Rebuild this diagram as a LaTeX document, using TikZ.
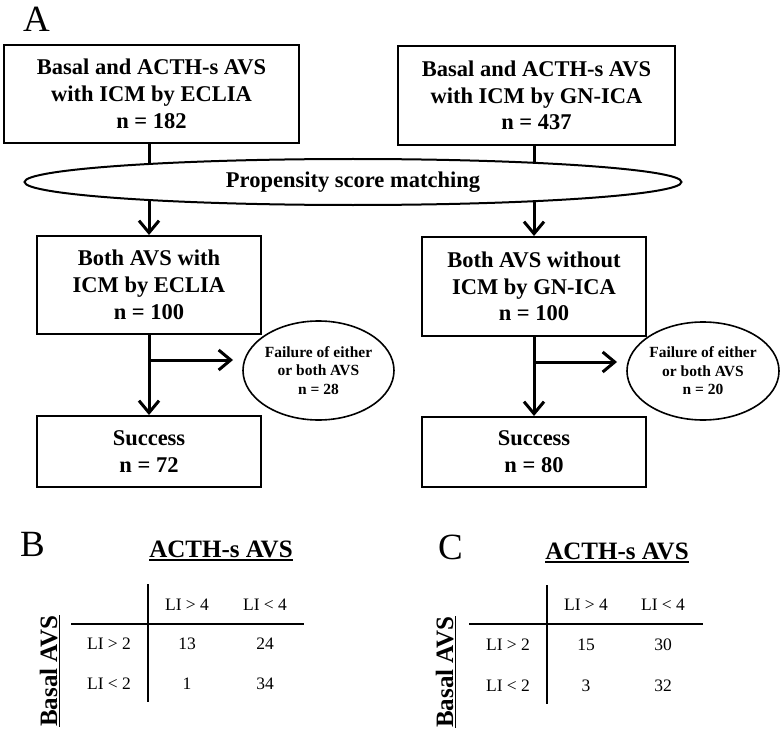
\documentclass[tikz,border=0pt]{standalone}
\usepackage{fontspec}
\setmainfont{Liberation Serif}
\usetikzlibrary{arrows.meta,shapes.geometric,backgrounds}
\begin{document}
\begin{tikzpicture}[x=1pt,y=-1pt,
  flowbox/.style={draw, line width=2pt, align=center, inner sep=0pt,
    font=\bfseries\fontsize{22.5}{26.7}\selectfont},
  bigell/.style={draw, ellipse, line width=2pt, fill=white, inner sep=0pt,
    font=\bfseries\fontsize{22.5}{26}\selectfont},
  smallell/.style={draw, ellipse, line width=1.6pt, inner sep=0pt},
  smalltxt/.style={align=center, inner sep=0pt, font=\bfseries\fontsize{15.5}{18.5}\selectfont},
  flowarrow/.style={line width=3pt, -{Straight Barb[length=12pt,width=20pt,line width=3pt]}},
  panel/.style={anchor=base west, inner sep=0pt, font=\fontsize{37}{40}\selectfont},
  heading/.style={anchor=base, inner sep=0pt, font=\bfseries\fontsize{25}{28}\selectfont},
  cell/.style={anchor=base, inner sep=0pt, font=\fontsize{17.5}{20}\selectfont},
  rule/.style={line width=2.5pt},
  uline/.style={line width=1.5pt}]
\useasboundingbox (0,0) rectangle (782,733);

% Panel A
\node[panel] (pA) at (23,32) {A};
\node[flowbox, minimum width=295, minimum height=98] (b1L) at (151.5,94)
  {Basal and ACTH-s AVS\\with ICM by ECLIA\\n = 182};
\node[flowbox, minimum width=277, minimum height=99] (b1R) at (536.5,95.5)
  {Basal and ACTH-s AVS\\with ICM by GN-ICA\\n = 437};
\node[bigell, minimum width=657, minimum height=46] (psm) at (353,182)
  {Propensity score matching};
\node[flowbox, minimum width=224, minimum height=98] (b2L) at (149,285)
  {Both AVS with\\ICM by ECLIA\\n = 100};
\node[flowbox, minimum width=224, minimum height=99] (b2R) at (534,286.5)
  {Both AVS without\\ICM by GN-ICA\\n = 100};
\node[flowbox, minimum width=224, minimum height=71] (b3L) at (149,451.5)
  {Success\\n = 72};
\node[flowbox, minimum width=224, minimum height=70] (b3R) at (534,452)
  {Success\\n = 80};
\node[smallell, minimum width=151, minimum height=99] (fL) at (318.5,370.5) {};
\node[smalltxt] (fLt) at (fL.center) {Failure of either\\or both AVS\\n = 28};
\node[smallell, minimum width=152, minimum height=98] (fR) at (703,371) {};
\node[smalltxt] (fRt) at (fR.center) {Failure of either\\or both AVS\\n = 20};
\coordinate (jL) at (149,360);
\coordinate (jR) at (534,362);
\coordinate (eL) at (243,360);
\coordinate (eR) at (627,362);

\begin{pgfonlayer}{background}
  \draw[flowarrow] (b2L.north |- b1L.south) -- (b2L.north);
  \draw[flowarrow] (b2R.north |- b1R.south) -- (b2R.north);
\end{pgfonlayer}
\draw[flowarrow] (b2L.south) -- (b3L.north);
\draw[flowarrow] (b2R.south) -- (b3R.north);
\draw[flowarrow, shorten >=10pt] (jL) -- (eL);
\draw[flowarrow, shorten >=10pt] (jR) -- (eR);

% Panel B
\node[panel] (pB) at (20,556) {B};
\node[heading] (hB) at (221,557) {ACTH-s AVS};
\draw[uline] ([yshift=-3pt]hB.base west) -- ([yshift=-3pt]hB.base east);
\node[heading, rotate=90] (vB) at (57,671) {Basal AVS};
\draw[uline] ([xshift=2.5pt]vB.base west) -- ([xshift=2.5pt]vB.base east);
\coordinate (tBt) at (148,584);
\coordinate (tBb) at (148,702);
\coordinate (tBl) at (71,624);
\coordinate (tBr) at (304,624);
\draw[rule] (tBt) -- (tBb);
\draw[rule] (tBl) -- (tBr);
\node[cell] (B11) at (187,610) {LI > 4};
\node[cell] (B12) at (265,610) {LI < 4};
\node[cell] (B21) at (109,649) {LI > 2};
\node[cell] (B31) at (109,689) {LI < 2};
\node[cell] (B22) at (187,649) {13};
\node[cell] (B23) at (265,649) {24};
\node[cell] (B32) at (187,689) {1};
\node[cell] (B33) at (265,689) {34};

% Panel C
\node[panel] (pC) at (438,559) {C};
\node[heading] (hC) at (617,559) {ACTH-s AVS};
\draw[uline] ([yshift=-3pt]hC.base west) -- ([yshift=-3pt]hC.base east);
\node[heading, rotate=90] (vC) at (453,672) {Basal AVS};
\draw[uline] ([xshift=2.5pt]vC.base west) -- ([xshift=2.5pt]vC.base east);
\coordinate (tCt) at (547,585);
\coordinate (tCb) at (547,704);
\coordinate (tCl) at (469,624);
\coordinate (tCr) at (703,624);
\draw[rule] (tCt) -- (tCb);
\draw[rule] (tCl) -- (tCr);
\node[cell] (C11) at (586,610) {LI > 4};
\node[cell] (C12) at (663,610) {LI < 4};
\node[cell] (C21) at (508,650) {LI > 2};
\node[cell] (C31) at (508,691) {LI < 2};
\node[cell] (C22) at (586,650) {15};
\node[cell] (C23) at (663,650) {30};
\node[cell] (C32) at (586,691) {3};
\node[cell] (C33) at (663,691) {32};
\end{tikzpicture}
\end{document}
